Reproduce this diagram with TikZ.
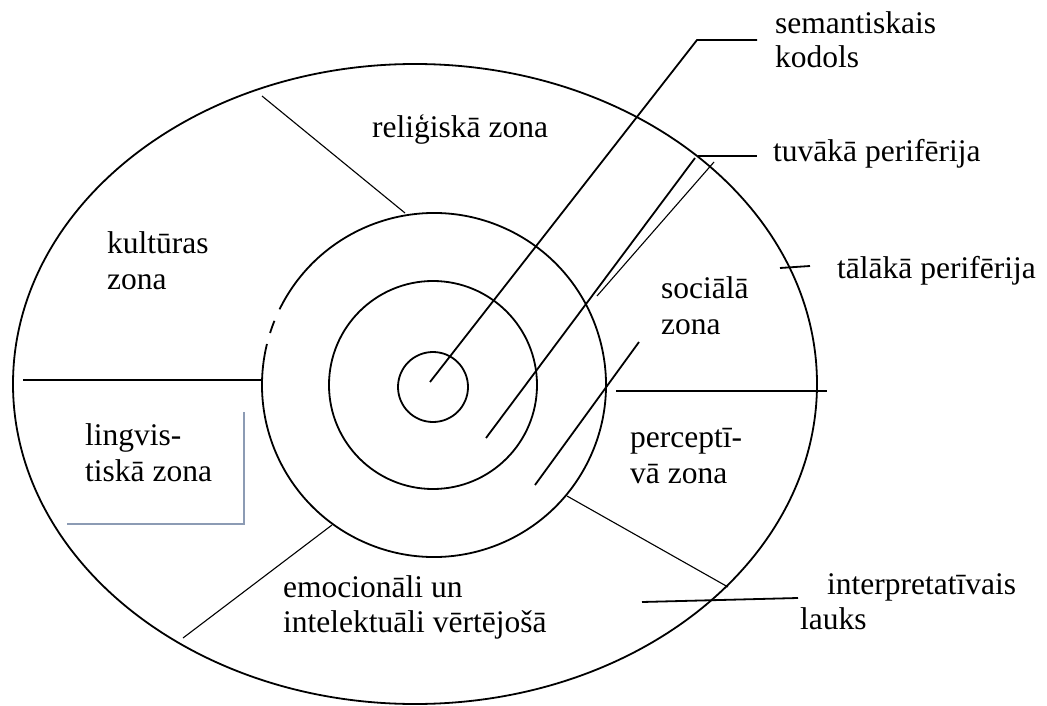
\documentclass[tikz,border=0pt]{standalone}
\usepackage{fontspec}
\setmainfont{Liberation Serif}
\begin{document}
\begin{tikzpicture}[x=1pt,y=-1pt,
  thickline/.style={line width=1.8pt,black},
  thinline/.style={line width=1.1pt,black},
  lbl/.style={anchor=base west,inner sep=0pt,font=\fontsize{31.5}{35}\selectfont}]
\useasboundingbox (0,0) rectangle (1047,706);
% centres
\coordinate (ec) at (415,384);
\coordinate (mc) at (434,385);
\coordinate (ic) at (433,385);
\coordinate (kc) at (433,387);
% shapes
\draw[thickline] (ec) ellipse[x radius=402pt,y radius=320pt];
\draw[thickline] (ic) circle[radius=104pt];
\draw[thickline] (kc) circle[radius=35pt];
\draw[thickline] (mc) ++(153.9:172pt) arc[start angle=153.9,end angle=-193.8,radius=172pt];
\draw[thickline] (mc) ++(158.1:172pt) arc[start angle=158.1,end angle=162.4,radius=172pt];
% grey L
\coordinate (g1) at (244,412);
\coordinate (g2) at (244,524);
\coordinate (g3) at (67,524);
\draw[line width=2.4pt,color={rgb,255:red,140;green,155;blue,180}] (g1) -- (g2) -- (g3);
% connector end points
\coordinate (s1) at (430,382); \coordinate (s2) at (697,40); \coordinate (s3) at (757,40);
\coordinate (t1) at (486,438); \coordinate (t2) at (695,158);
\coordinate (t3) at (698,156); \coordinate (t4) at (757,156);
\coordinate (u1) at (597,296); \coordinate (u2) at (714,162);
\coordinate (p1) at (535,485); \coordinate (p2) at (639,342);
\coordinate (f1) at (780,268); \coordinate (f2) at (810,266);
\coordinate (i1) at (642,602); \coordinate (i2) at (798,598);
\coordinate (r1) at (262,96); \coordinate (r2) at (405,213);
\coordinate (e1) at (183,638); \coordinate (e2) at (332,525);
\coordinate (c1) at (567,496); \coordinate (c2) at (728,587);
\coordinate (h1) at (23,380); \coordinate (h2) at (261,380);
\coordinate (h3) at (616,391); \coordinate (h4) at (827,391);
\draw[thickline] (s1) -- (s2) -- (s3);
\draw[thickline] (t1) -- (t2);
\draw[thickline] (t3) -- (t4);
\draw[thinline] (u1) -- (u2);
\draw[thickline] (p1) -- (p2);
\draw[thickline] (f1) -- (f2);
\draw[thickline] (i1) -- (i2);
\draw[thinline] (r1) -- (r2);
\draw[thinline] (e1) -- (e2);
\draw[thinline] (c1) -- (c2);
\draw[thickline] (h1) -- (h2);
\draw[thickline] (h3) -- (h4);
% labels
\node[lbl] (sem1) at (775,34) {semantiskais};
\node[lbl] (sem2) at (775,68) {kodols};
\node[lbl] (rel) at (372,138) {reliģiskā zona};
\node[lbl] (tuv) at (773,162) {tuvākā perifērija};
\node[lbl] (tal) at (837,278) {tālākā perifērija};
\node[lbl] (kul1) at (107,253) {kultūras};
\node[lbl] (kul2) at (107,289) {zona};
\node[lbl] (soc1) at (661,298) {sociālā};
\node[lbl] (soc2) at (661,334) {zona};
\node[lbl] (lin1) at (85,445) {lingvis-};
\node[lbl] (lin2) at (85,481) {tiskā zona};
\node[lbl] (per1) at (630,447) {perceptī-};
\node[lbl] (per2) at (630,483) {vā zona};
\node[lbl] (emo1) at (283,597) {emocionāli un};
\node[lbl] (emo2) at (283,632) {intelektuāli vērtējošā};
\node[lbl] (int1) at (827,594) {interpretatīvais};
\node[lbl] (int2) at (800,629) {lauks};
\end{tikzpicture}
\end{document}
